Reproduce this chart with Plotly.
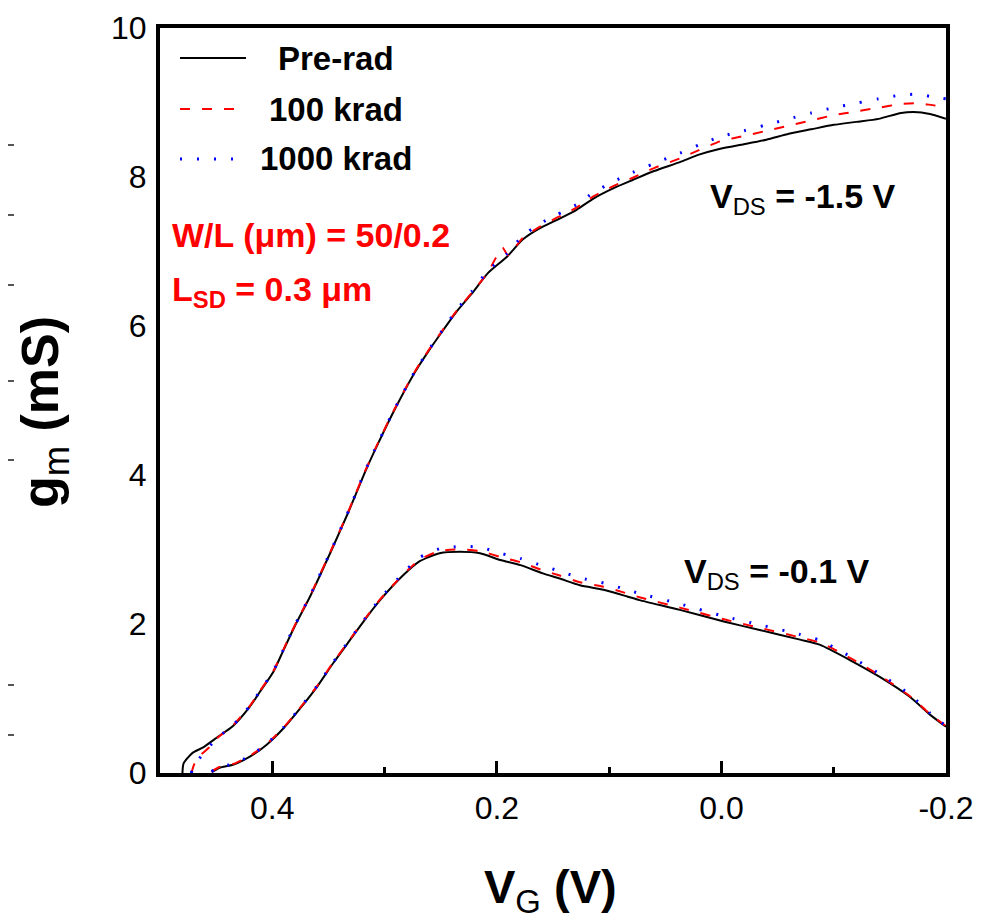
import plotly.graph_objects as go

# ---------------- data ----------------
# V_DS = -1.5 V
hi_pre_v = [0.480, 0.479, 0.471, 0.462, 0.449, 0.435, 0.420, 0.411, 0.399, 0.390, 0.380, 0.366,
            0.347, 0.332, 0.318, 0.309, 0.292, 0.273, 0.261, 0.249, 0.236, 0.222, 0.208, 0.191,
            0.177, 0.162, 0.147, 0.129, 0.114, 0.096, 0.079, 0.060, 0.037, 0.020, 0.001, -0.020,
            -0.040, -0.060, -0.080, -0.100, -0.120, -0.140, -0.160, -0.175, -0.190, -0.200]
hi_pre_g = [0.00, 0.13, 0.27, 0.34, 0.48, 0.63, 0.89, 1.09, 1.36, 1.65, 1.97, 2.38,
            3.00, 3.51, 4.02, 4.32, 4.85, 5.38, 5.66, 5.92, 6.19, 6.44, 6.71, 6.93,
            7.16, 7.31, 7.42, 7.56, 7.71, 7.85, 7.96, 8.08, 8.20, 8.30, 8.38, 8.44,
            8.50, 8.58, 8.64, 8.70, 8.74, 8.78, 8.86, 8.87, 8.83, 8.78]

hi_100_v = [0.472, 0.470, 0.466, 0.455, 0.449, 0.435, 0.420, 0.411, 0.399, 0.390, 0.380, 0.366,
            0.347, 0.332, 0.318, 0.309, 0.292, 0.273, 0.261, 0.249, 0.236, 0.222, 0.208, 0.195,
            0.190, 0.177, 0.162, 0.147, 0.129, 0.114, 0.096, 0.079, 0.060, 0.037, 0.020, 0.001,
            -0.020, -0.040, -0.060, -0.080, -0.100, -0.120, -0.140, -0.160, -0.175, -0.190, -0.200]
hi_100_g = [0.00, 0.10, 0.21, 0.36, 0.47, 0.64, 0.90, 1.10, 1.37, 1.66, 1.98, 2.39,
            3.01, 3.52, 4.03, 4.33, 4.86, 5.39, 5.67, 5.93, 6.20, 6.45, 6.72, 7.05,
            6.95, 7.18, 7.33, 7.45, 7.59, 7.74, 7.88, 7.99, 8.12, 8.25, 8.36, 8.48,
            8.55, 8.62, 8.69, 8.76, 8.83, 8.88, 8.93, 8.98, 8.99, 8.96, 8.95]

hi_1000_v = [0.472, 0.471, 0.462, 0.449, 0.435, 0.420, 0.411, 0.399, 0.390, 0.380, 0.366,
             0.347, 0.332, 0.318, 0.309, 0.292, 0.273, 0.261, 0.249, 0.236, 0.222, 0.208, 0.191,
             0.177, 0.162, 0.147, 0.129, 0.114, 0.096, 0.079, 0.060, 0.037, 0.020, 0.001,
             -0.020, -0.040, -0.060, -0.080, -0.100, -0.120, -0.140, -0.160, -0.175, -0.190, -0.200]
hi_1000_g = [0.00, 0.07, 0.25, 0.47, 0.64, 0.90, 1.10, 1.37, 1.66, 1.98, 2.39,
             3.01, 3.52, 4.03, 4.33, 4.86, 5.39, 5.67, 5.93, 6.21, 6.47, 6.74, 6.97,
             7.21, 7.37, 7.49, 7.63, 7.79, 7.94, 8.06, 8.18, 8.32, 8.43, 8.54,
             8.62, 8.70, 8.78, 8.86, 8.93, 8.99, 9.05, 9.10, 9.11, 9.07, 9.05]

# V_DS = -0.1 V
lo_v = [0.454, 0.447, 0.435, 0.420, 0.405, 0.390, 0.375, 0.360, 0.346, 0.331, 0.318, 0.304,
        0.283, 0.269, 0.251, 0.233, 0.215, 0.197, 0.179, 0.159, 0.144, 0.126, 0.105, 0.084,
        0.073, 0.037, -0.003, -0.034, -0.070, -0.088, -0.114, -0.141, -0.168, -0.186, -0.200]
lo_pre_g = [0.01, 0.07, 0.11, 0.22, 0.38, 0.60, 0.87, 1.16, 1.47, 1.78, 2.05, 2.32,
            2.66, 2.84, 2.95, 2.97, 2.95, 2.86, 2.79, 2.68, 2.61, 2.52, 2.46, 2.37,
            2.32, 2.19, 2.03, 1.92, 1.79, 1.72, 1.52, 1.29, 1.02, 0.78, 0.62]
lo_100_g = [0.02, 0.08, 0.12, 0.23, 0.39, 0.61, 0.88, 1.17, 1.48, 1.79, 2.06, 2.33,
            2.67, 2.86, 2.98, 3.00, 2.98, 2.90, 2.83, 2.72, 2.65, 2.56, 2.50, 2.41,
            2.36, 2.22, 2.06, 1.95, 1.82, 1.75, 1.55, 1.31, 1.03, 0.79, 0.63]
lo_1000_g = [0.02, 0.08, 0.12, 0.23, 0.39, 0.61, 0.88, 1.17, 1.48, 1.79, 2.06, 2.34,
             2.69, 2.89, 3.01, 3.04, 3.03, 2.95, 2.88, 2.78, 2.71, 2.62, 2.55, 2.46,
             2.41, 2.27, 2.10, 1.99, 1.86, 1.78, 1.57, 1.33, 1.05, 0.80, 0.63]

x_tickvals = [0.4, 0.2, 0.0, -0.2]
x_ticktext = ["0.4", "0.2", "0.0", "-0.2"]
x_minor_tickvals = [0.3, 0.1, -0.1]
y_tickvals = [0, 2, 4, 6, 8, 10]
y_ticktext = ["0", "2", "4", "6", "8", "10"]

series_names = ["Pre-rad", "100 krad", "1000 krad"]

# ---------------- layout geometry (page pixels) ----------------
OFF = 8                      # default page margin around the figure div
W, H = 990 - OFF, 923 - OFF  # figure size so that it fits the window
PL, PR, PT, PB = 160, 946, 28, 773   # plot box in page pixels
L, T = PL - OFF, PT - OFF
R, B = W - (PR - OFF), H - (PB - OFF)
PW, PH = PR - PL, PB - PT

def px(x):
    return (x - PL) / PW

def py(y):
    return (PB - y) / PH

FONT = "Liberation Sans, Arial, sans-serif"
BLACK = "#000000"
RED = "#ff0000"
BLUE = "#0000ff"
styles = [dict(color=BLACK, width=2, dash="solid"),
          dict(color=RED, width=2, dash="10px,12px"),
          dict(color=BLUE, width=3, dash="2px,15px")]

fig = go.Figure()
for vx, gy, st in [(hi_pre_v, hi_pre_g, styles[0]), (lo_v, lo_pre_g, styles[0]),
                   (hi_100_v, hi_100_g, styles[1]), (lo_v, lo_100_g, styles[1]),
                   (hi_1000_v, hi_1000_g, styles[2]), (lo_v, lo_1000_g, styles[2])]:
    fig.add_trace(go.Scatter(x=vx, y=gy, mode="lines",
                             line=dict(**st, shape="spline", smoothing=0.6),
                             showlegend=False, hoverinfo="skip"))

shapes = []
annotations = []

# custom legend
leg_rows = [58, 109, 159]
for name, st, yy in zip(series_names, styles, leg_rows):
    shapes.append(dict(type="line", xref="paper", yref="paper",
                       x0=px(180), x1=px(246), y0=py(yy), y1=py(yy),
                       line=dict(color=st["color"], width=st["width"], dash=st["dash"])))
    annotations.append(dict(xref="paper", yref="paper", x=px(336), y=py(yy),
                            xanchor="center", yanchor="middle", showarrow=False,
                            text=name, font=dict(family=FONT, size=33, color=BLACK, weight="bold")))

# device annotations (red)
annotations.append(dict(xref="paper", yref="paper", x=px(170), y=py(235),
                        xanchor="left", yanchor="middle", showarrow=False,
                        text="W/L (μm) = 50/0.2",
                        font=dict(family=FONT, size=34, color=RED, weight="bold")))
annotations.append(dict(xref="paper", yref="paper", x=px(170), y=py(292),
                        xanchor="left", yanchor="middle", showarrow=False,
                        text="L<sub>SD</sub> = 0.3 μm",
                        font=dict(family=FONT, size=34, color=RED, weight="bold")))

# V_DS labels
annotations.append(dict(xref="paper", yref="paper", x=px(708), y=py(198),
                        xanchor="left", yanchor="middle", showarrow=False,
                        text="V<sub><span style='font-weight:normal'>DS</span></sub> = -1.5 V",
                        font=dict(family=FONT, size=34, color=BLACK, weight="bold")))
annotations.append(dict(xref="paper", yref="paper", x=px(682), y=py(573),
                        xanchor="left", yanchor="middle", showarrow=False,
                        text="V<sub><span style='font-weight:normal'>DS</span></sub> = -0.1 V",
                        font=dict(family=FONT, size=34, color=BLACK, weight="bold")))

# axis titles
annotations.append(dict(xref="paper", yref="paper", x=px(550), y=py(890),
                        xanchor="center", yanchor="middle", showarrow=False,
                        text="V<sub><span style='font-weight:normal'>G</span></sub> (V)",
                        font=dict(family=FONT, size=47, color=BLACK, weight="bold")))
annotations.append(dict(xref="paper", yref="paper", x=px(44), y=py(412),
                        xanchor="center", yanchor="middle", showarrow=False, textangle=-90,
                        text="g<sub><span style='font-weight:normal'>m</span></sub> (mS)",
                        font=dict(family=FONT, size=52, color=BLACK, weight="bold")))

# stray tick marks at the left border of the picture
for yy in [145, 215, 285, 381, 460, 685, 735]:
    shapes.append(dict(type="line", xref="paper", yref="paper",
                       x0=px(OFF), x1=px(OFF + 6), y0=py(yy), y1=py(yy),
                       line=dict(color="#555555", width=2)))

fig.update_layout(
    width=W, height=H,
    margin=dict(l=L, r=R, t=T, b=B, pad=0, autoexpand=False),
    paper_bgcolor="white", plot_bgcolor="white",
    font=dict(family=FONT, color=BLACK),
    shapes=shapes, annotations=annotations,
    showlegend=False,
)
fig.update_xaxes(range=[0.5, -0.2], showgrid=False, zeroline=False, automargin=False,
                 showline=True, linewidth=4, linecolor=BLACK, mirror=True,
                 ticks="inside", ticklen=12, tickwidth=3, tickcolor=BLACK,
                 tickvals=x_tickvals, ticktext=x_ticktext, ticklabelstandoff=4,
                 tickfont=dict(family=FONT, size=32, color=BLACK),
                 minor=dict(ticks="inside", ticklen=6, tickwidth=3, tickcolor=BLACK,
                            tickvals=x_minor_tickvals, showgrid=False))
fig.update_yaxes(range=[0, 10], showgrid=False, zeroline=False, automargin=False,
                 showline=True, linewidth=4, linecolor=BLACK, mirror=True,
                 ticks="", tickvals=y_tickvals, ticktext=y_ticktext, ticklabelstandoff=3,
                 tickfont=dict(family=FONT, size=32, color=BLACK))

fig.write_html("out.html")
